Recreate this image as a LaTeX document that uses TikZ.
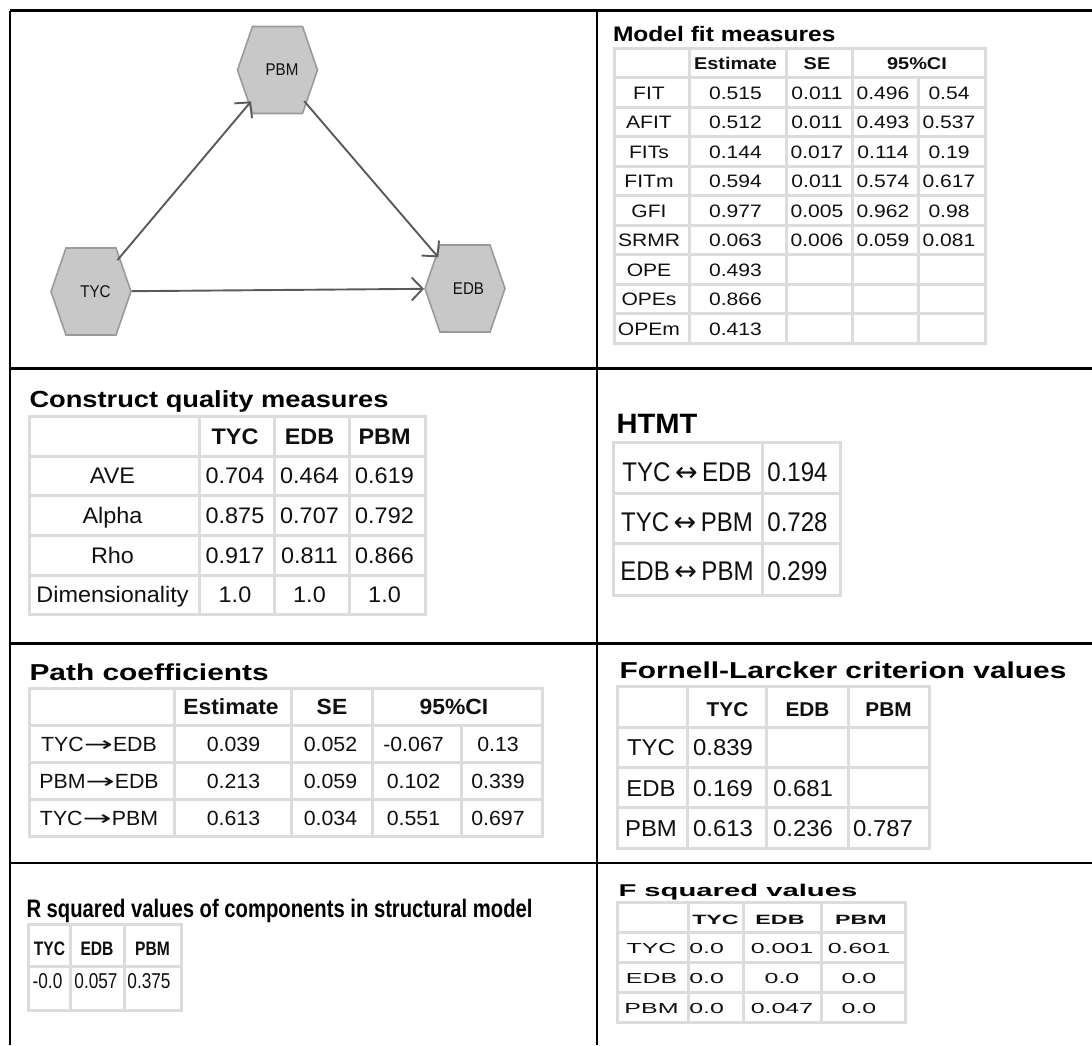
\documentclass[tikz,border=0pt]{standalone}
\usepackage{fontspec}
\usepackage{graphicx}
\usetikzlibrary{arrows.meta}
\newfontfamily\fsB[FakeStretch=1.30]{Liberation Sans}
\newfontfamily\fsC[FakeStretch=1.17]{Liberation Sans}
\newfontfamily\fsD[FakeStretch=1.04]{Liberation Sans}
\newfontfamily\fsE[FakeStretch=0.89]{Liberation Sans}
\newfontfamily\fsG[FakeStretch=0.80]{Liberation Sans}
\newfontfamily\fsH[FakeStretch=1.72]{Liberation Sans}
\newfontfamily\arrfont{DejaVu Sans}
\newcommand\fz[1]{\fontsize{#1}{#1}\selectfont}
\newcommand\rarr{\scalebox{1.7}[1]{\arrfont →}}
\newcommand\lrarr{{\arrfont ↔}}
\definecolor{gridgray}{HTML}{DCDCDC}
\definecolor{hexfill}{HTML}{C8C8C8}
\definecolor{hexedge}{HTML}{9A9A9A}
\definecolor{linkgray}{HTML}{5A5A5A}
\definecolor{ink}{HTML}{101010}
\begin{document}
\begin{tikzpicture}[x=1pt,y=-1pt,
  every node/.style={inner sep=0pt, outer sep=0pt, text=ink},
  frameln/.style={line width=2.6pt, draw=black},
  gridln/.style={line width=3pt, draw=gridgray, line cap=rect},
  hexnode/.style={circle, minimum size=82pt},
  hexlab/.style={font=\fsE\fz{17}},
  conn/.style={draw=linkgray, line width=1.9pt, -{Straight Barb[length=11pt, width=23pt]}},
  ttl/.style={anchor=base west, text=black},
  hexpic/.pic={\filldraw[fill=hexfill, draw=hexedge, line width=1.6pt]
     (-40,0) -- (-25,-43.5) -- (25,-43.5) -- (40,0) -- (25,43.5) -- (-25,43.5) -- cycle;},
  mfh/.style={anchor=base, font=\fsC\bfseries\fz{17}},
  mfb/.style={anchor=base, font=\fsC\fz{18}},
  cqh/.style={anchor=base, font=\fsD\bfseries\fz{22.5}},
  cqb/.style={anchor=base, font=\fsD\fz{22.5}},
  htb/.style={anchor=base, font=\fsE\fz{27}},
  pch/.style={anchor=base, font=\fsD\bfseries\fz{22}},
  pcb/.style={anchor=base, font=\fsD\fz{20.5}},
  flh/.style={anchor=base, font=\fsD\bfseries\fz{20}},
  flb/.style={anchor=base, font=\fsD\fz{23}},
  rsh/.style={anchor=base, font=\fsG\bfseries\fz{19.5}},
  rsb/.style={anchor=base, font=\fsG\fz{21.5}},
  fsh/.style={anchor=base, font=\fsH\bfseries\fz{13.5}},
  fsb/.style={anchor=base, font=\fsH\fz{14.5}}
]
\useasboundingbox (0,0) rectangle (1092,1045);
\fill[white] (0,0) rectangle (1092,1045);

% ---------- frame ----------
\draw[frameln] (9.8,10.5) -- (1092,10.5);
\draw[frameln] (9.8,368.3) -- (1092,368.3);
\draw[frameln] (9.8,643.5) -- (1092,643.5);
\draw[frameln] (9.8,863) -- (1092,863);
\draw[frameln] (9.8,10.5) -- (9.8,1045);
\draw[frameln] (596.8,10.5) -- (596.8,1045);

% ---------- path model ----------
\pic at (91,291.5) {hexpic};
\pic at (277.5,70) {hexpic};
\pic at (465,288.5) {hexpic};
\node[hexnode] (tyc) at (91,291.5) {};
\node[hexnode] (pbm) at (277.5,70) {};
\node[hexnode] (edb) at (465,288.5) {};
\node[hexlab] (tyclab) at (95.5,291.5) {TYC};
\node[hexlab] (pbmlab) at (282,70) {PBM};
\node[hexlab] (edblab) at (468.5,288.5) {EDB};
\draw[conn] (tyc) -- (pbm);
\draw[conn] (pbm) -- (edb);
\draw[conn] (tyc) -- (edb);

% ---------- Model fit measures ----------
\node[ttl, font=\fsC\bfseries\fz{21}] (mftitle) at (613,41.5) {Model fit measures};
\foreach \k in {0,...,10} \draw[gridln] (614.3,{48.5+29.48*\k}) -- (985,{48.5+29.48*\k});
\foreach \xx in {614.3,689,786.7,852.7,985} \draw[gridln] (\xx,48.5) -- (\xx,343.3);
\draw[gridln] (918.3,77.98) -- (918.3,343.3);
\node[mfh] (mf-0-2) at (735.5,69.3) {Estimate};
\node[mfh] (mf-0-3) at (817,69.3) {SE};
\node[mfh] (mf-0-4) at (917,69.3) {95\%CI};
\foreach \va/\vb/\vc/\vd/\ve [count=\rr] in {FIT/0.515/0.011/0.496/0.54, AFIT/0.512/0.011/0.493/0.537, FITs/0.144/0.017/0.114/0.19, FITm/0.594/0.011/0.574/0.617, GFI/0.977/0.005/0.962/0.98, SRMR/0.063/0.006/0.059/0.081}{
  \node[mfb] (mf-\rr-1) at (649,{55+29.48*(\rr+0.5)}) {\va};
  \node[mfb] (mf-\rr-2) at (735.5,{55+29.48*(\rr+0.5)}) {\vb};
  \node[mfb] (mf-\rr-3) at (817,{55+29.48*(\rr+0.5)}) {\vc};
  \node[mfb] (mf-\rr-4) at (883,{55+29.48*(\rr+0.5)}) {\vd};
  \node[mfb] (mf-\rr-5) at (949,{55+29.48*(\rr+0.5)}) {\ve};
}
\foreach \va/\vb [count=\rr from 7] in {OPE/0.493, OPEs/0.866, OPEm/0.413}{
  \node[mfb] (mf-\rr-1) at (649,{55+29.48*(\rr+0.5)}) {\va};
  \node[mfb] (mf-\rr-2) at (735.5,{55+29.48*(\rr+0.5)}) {\vb};
}

% ---------- Construct quality measures ----------
\node[ttl, font=\fsC\bfseries\fz{23.3}] (cqtitle) at (29.5,407) {Construct quality measures};
\foreach \k in {0,...,5} \draw[gridln] (29.9,{416.5+39.65*\k}) -- (425.6,{416.5+39.65*\k});
\foreach \xx in {29.9,199.8,274.8,349,425.6} \draw[gridln] (\xx,416.5) -- (\xx,614.75);
\node[cqh] (cq-0-2) at (235,444.2) {TYC};
\node[cqh] (cq-0-3) at (309.5,444.2) {EDB};
\node[cqh] (cq-0-4) at (384.5,444.2) {PBM};
\foreach \va/\vb/\vc/\vd [count=\rr] in {AVE/0.704/0.464/0.619, Alpha/0.875/0.707/0.792, Rho/0.917/0.811/0.866, Dimensionality/1.0/1.0/1.0}{
  \node[cqb] (cq-\rr-1) at (112.5,{424.4+39.65*(\rr+0.5)}) {\va};
  \node[cqb] (cq-\rr-2) at (235,{424.4+39.65*(\rr+0.5)}) {\vb};
  \node[cqb] (cq-\rr-3) at (309.5,{424.4+39.65*(\rr+0.5)}) {\vc};
  \node[cqb] (cq-\rr-4) at (384.5,{424.4+39.65*(\rr+0.5)}) {\vd};
}

% ---------- HTMT ----------
\node[ttl, font=\fsD\bfseries\fz{28}] (httitle) at (616.5,433.3) {HTMT};
\foreach \yy in {442.7,493.3,543.3,595} \draw[gridln] (613.3,\yy) -- (840.7,\yy);
\foreach \xx in {613.3,762.3,840.7} \draw[gridln] (\xx,442.7) -- (\xx,595);
\foreach \va/\vb/\yy [count=\rr] in {TYC/EDB/481, TYC/PBM/531, EDB/PBM/580}{
  \node[htb] (ht-\rr-1) at (687,\yy) {\va\,\lrarr\,\vb};
}
\node[htb] (ht-1-2) at (797.5,481) {0.194};
\node[htb] (ht-2-2) at (797.5,531) {0.728};
\node[htb] (ht-3-2) at (797.5,580) {0.299};

% ---------- Path coefficients ----------
\node[ttl, font=\fsB\bfseries\fz{23}] (pctitle) at (29.5,680.5) {Path coefficients};
\foreach \k in {0,...,4} \draw[gridln] (29.9,{688.3+37.1*\k}) -- (542.7,{688.3+37.1*\k});
\foreach \xx in {29.9,174,291.6,372,542.7} \draw[gridln] (\xx,688.3) -- (\xx,836.7);
\draw[gridln] (461,725.4) -- (461,836.7);
\node[pch] (pc-0-2) at (231,714.6) {Estimate};
\node[pch] (pc-0-3) at (332,714.6) {SE};
\node[pch] (pc-0-4) at (454,714.6) {95\%CI};
\foreach \va/\vb/\vc/\vd/\ve/\vf [count=\rr] in {TYC/EDB/0.039/0.052/-0.067/0.13, PBM/EDB/0.213/0.059/0.102/0.339, TYC/PBM/0.613/0.034/0.551/0.697}{
  \node[pcb] (pc-\rr-1) at (99,{695.6+37.1*(\rr+0.5)}) {\va\rarr\vb};
  \node[pcb] (pc-\rr-2) at (233.5,{695.6+37.1*(\rr+0.5)}) {\vc};
  \node[pcb] (pc-\rr-3) at (330.5,{695.6+37.1*(\rr+0.5)}) {\vd};
  \node[pcb] (pc-\rr-4) at (413.5,{695.6+37.1*(\rr+0.5)}) {\ve};
  \node[pcb] (pc-\rr-5) at (498,{695.6+37.1*(\rr+0.5)}) {\vf};
}

% ---------- Fornell-Larcker ----------
\node[ttl, font=\fsB\bfseries\fz{23}] (fltitle) at (619.5,678.8) {Fornell-Larcker criterion values};
\foreach \k in {0,...,4} \draw[gridln] (617.7,{686.7+40.4*\k}) -- (929.3,{686.7+40.4*\k});
\foreach \xx in {617.7,687.7,766,848.3,929.3} \draw[gridln] (\xx,686.7) -- (\xx,848.3);
\node[flh] (fl-0-2) at (727.5,716.3) {TYC};
\node[flh] (fl-0-3) at (807.5,716.3) {EDB};
\node[flh] (fl-0-4) at (888.5,716.3) {PBM};
\node[flb] (fl-1-1) at (651,{695+40.4*1.5}) {TYC};
\node[flb] (fl-1-2) at (723,{695+40.4*1.5}) {0.839};
\node[flb] (fl-2-1) at (651,{695+40.4*2.5}) {EDB};
\node[flb] (fl-2-2) at (723,{695+40.4*2.5}) {0.169};
\node[flb] (fl-2-3) at (803,{695+40.4*2.5}) {0.681};
\node[flb] (fl-3-1) at (651,{695+40.4*3.5}) {PBM};
\node[flb] (fl-3-2) at (723,{695+40.4*3.5}) {0.613};
\node[flb] (fl-3-3) at (803,{695+40.4*3.5}) {0.236};
\node[flb] (fl-3-4) at (883,{695+40.4*3.5}) {0.787};

% ---------- R squared ----------
\node[ttl, font=\fsG\bfseries\fz{25.3}] (rstitle) at (26.5,917.3) {R squared values of components in structural model};
\foreach \yy in {924.3,966,1010} \draw[gridln] (28.3,\yy) -- (181.7,\yy);
\foreach \xx in {28.3,70,124,181.7} \draw[gridln] (\xx,924.3) -- (\xx,1010);
\node[rsh] (rs-0-1) at (49.5,955) {TYC};
\node[rsh] (rs-0-2) at (97,955) {EDB};
\node[rsh] (rs-0-3) at (152.5,955) {PBM};
\node[rsb] (rs-1-1) at (47.5,988.3) {-0.0};
\node[rsb] (rs-1-2) at (96,988.3) {0.057};
\node[rsb] (rs-1-3) at (149,988.3) {0.375};

% ---------- F squared ----------
\node[ttl, font=\fsH\bfseries\fz{17}] (fstitle) at (618.5,896) {F squared values};
\foreach \k in {0,...,4} \draw[gridln] (617.7,{902.7+29.9*\k}) -- (905,{902.7+29.9*\k});
\foreach \xx in {617.7,688.3,743.3,821.7,905} \draw[gridln] (\xx,902.7) -- (\xx,1022.3);
\node[fsh] (fs-0-2) at (715.5,924) {TYC};
\node[fsh] (fs-0-3) at (780,924) {EDB};
\node[fsh] (fs-0-4) at (861,924) {PBM};
\foreach \va/\vb/\vc/\vd [count=\rr] in {TYC/0.0/0.001/0.601, EDB/0.0/0.0/0.0, PBM/0.0/0.047/0.0}{
  \node[fsb] (fs-\rr-1) at (651.5,{909+29.9*(\rr+0.5)}) {\va};
  \node[fsb] (fs-\rr-2) at (706.7,{909+29.9*(\rr+0.5)}) {\vb};
  \node[fsb] (fs-\rr-3) at (782,{909+29.9*(\rr+0.5)}) {\vc};
  \node[fsb] (fs-\rr-4) at (859,{909+29.9*(\rr+0.5)}) {\vd};
}
\end{tikzpicture}
\end{document}
